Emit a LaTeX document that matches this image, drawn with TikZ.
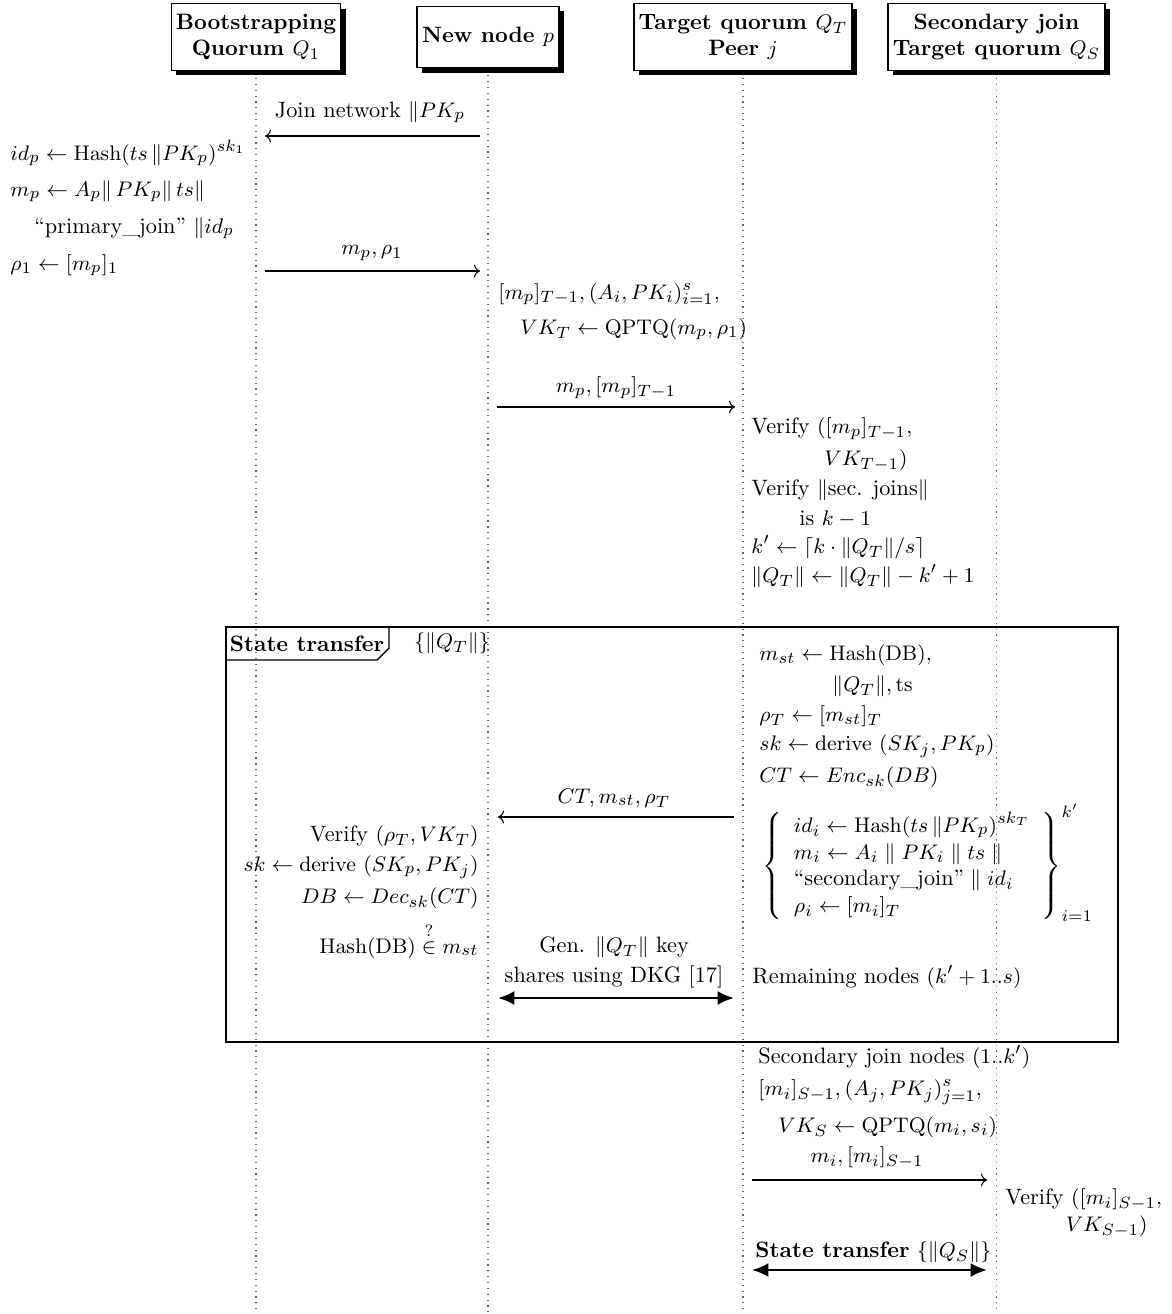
\documentclass[tikz,border=0pt]{standalone}
\usepackage{amsmath,amssymb}
\usetikzlibrary{arrows.meta,shadows}
\begin{document}
\fontsize{9.5}{11.4}\selectfont
\begin{tikzpicture}[x=0.015cm,y=-0.015cm,
  hdr/.style={draw, fill=white, align=center, font=\bfseries, inner sep=2pt, line width=0.5pt,
     drop shadow={opacity=1, fill=black, shadow xshift=2.2pt, shadow yshift=-2.2pt}},
  life/.style={dotted, black!60, line width=0.5pt},
  msg/.style={->, line width=0.45pt},
  bigarr/.style={{Latex[length=7pt,width=6pt]}-{Latex[length=7pt,width=6pt]}, line width=1.1pt},
  tl/.style={inner sep=0pt, anchor=west},
  tr/.style={inner sep=0pt, anchor=east},
  tc/.style={inner sep=0pt},
]
\useasboundingbox (0,0) rectangle (1171,1314);

% headers
\node[hdr, minimum width=2.52cm, minimum height=1.0cm] (q1) at (256,37) {Bootstrapping\\Quorum $Q_1$};
\node[hdr, minimum width=2.13cm, minimum height=0.92cm] (p) at (488,37) {New node $p$};
\node[hdr, minimum width=3.24cm, minimum height=1.0cm] (qt) at (743,37) {Target quorum $Q_T$\\Peer $j$};
\node[hdr, minimum width=3.23cm, minimum height=1.0cm] (qs) at (996.5,37) {Secondary join\\Target quorum $Q_S$};

% lifelines
\coordinate (q1end) at (256,1312);
\coordinate (pend) at (488,1312);
\coordinate (qtend) at (743,1312);
\coordinate (qsend) at (996.5,1312);
\draw[life] ([yshift=-3pt]q1.south) -- (q1end);
\draw[life] ([yshift=-3pt]p.south) -- (pend);
\draw[life] ([yshift=-3pt]qt.south) -- (qtend);
\draw[life] ([yshift=-3pt]qs.south) -- (qsend);

% message 1
\node[tc] (l1) at (370,112) {Join network $\|PK_p$};
\coordinate (a1s) at (480,136);
\coordinate (a1e) at (265,136);
\draw[msg] (a1s) -- (a1e);

% Q1 block
\node[tl] (b1a) at (10,153) {$id_p \leftarrow \mathrm{Hash}(ts\,\|PK_p)^{sk_1}$};
\node[tl] (b1b) at (10,191) {$m_p \leftarrow A_p\|\,PK_p\|\,ts\|$};
\node[tl] (b1c) at (34,228) {“primary\_join” $\|id_p$};
\node[tl] (b1d) at (10,265) {$\rho_1 \leftarrow [m_p]_1$};

% message 2
\node[tc] (l2) at (372,253) {$m_p, \rho_1$};
\coordinate (a2s) at (265,271);
\coordinate (a2e) at (480,271);
\draw[msg] (a2s) -- (a2e);

% p block
\node[tl] (b2a) at (498,294) {$[m_p]_{T-1}, (A_i, PK_i)^{s}_{i=1},$};
\node[tl] (b2b) at (520,329) {$VK_T \leftarrow \mathrm{QPTQ}(m_p,\rho_1)$};

% message 3
\node[tc] (l3) at (616,388) {$m_p, [m_p]_{T-1}$};
\coordinate (a3s) at (497,407);
\coordinate (a3e) at (735,407);
\draw[msg] (a3s) -- (a3e);

% QT block
\node[tl] (b3a) at (751,429) {Verify $([m_p]_{T-1},$};
\node[tl] (b3b) at (824,461) {$VK_{T-1})$};
\node[tl] (b3c) at (751,490) {Verify $\|$sec. joins$\|$};
\node[tl] (b3d) at (799,519) {is $k-1$};
\node[tl] (b3e) at (751,547) {$k' \leftarrow \lceil k\cdot\|Q_T\|/s\rceil$};
\node[tl] (b3f) at (751,576) {$\|Q_T\| \leftarrow \|Q_T\| - k' + 1$};

% state transfer frame
\draw[line width=0.6pt] (226,627) rectangle (1118,1042);
\draw[line width=0.6pt] (226,660) -- (377,660) -- (389,648) -- (389,627);
\node[tc, font=\bfseries] (sttab) at (307,644) {State transfer};
\node[tc] (stqt) at (452,643) {$\{\|Q_T\|\}$};

% QT block in frame
\node[tl] (b4a) at (759,655) {$m_{st} \leftarrow \mathrm{Hash(DB)},$};
\node[tl] (b4b) at (832,686) {$\|Q_T\|, \mathrm{ts}$};
\node[tl] (b4c) at (759,716) {$\rho_T \leftarrow [m_{st}]_T$};
\node[tl] (b4d) at (759,746) {$sk \leftarrow \mathrm{derive}\ (SK_j, PK_p)$};
\node[tl] (b4e) at (759,777) {$CT \leftarrow Enc_{sk}(DB)$};
\node[tl] (br) at (762,863) {$\left\{\begin{array}{l}
  id_i \leftarrow \mathrm{Hash}(ts\,\|PK_p)^{sk_T}\\
  m_i \leftarrow A_i \parallel PK_i \parallel ts \parallel\\
  \text{“secondary\_join”} \parallel id_i\\
  \rho_i \leftarrow [m_i]_T
  \end{array}\right\}_{i=1}^{k'}$};
\node[tl] (b4f) at (752,977) {Remaining nodes $(k'+1..s)$};

% message CT
\node[tc] (l4) at (614,798) {$CT, m_{st}, \rho_T$};
\coordinate (a4s) at (734,817);
\coordinate (a4e) at (498,817);
\draw[msg] (a4s) -- (a4e);

% p block in frame
\node[tr] (b5a) at (479,836) {Verify $(\rho_T, VK_T)$};
\node[tr] (b5b) at (479,867) {$sk \leftarrow \mathrm{derive}\ (SK_p, PK_j)$};
\node[tr] (b5c) at (479,898) {$DB \leftarrow Dec_{sk}(CT)$};
\node[tr, anchor=base east] (b5d) at (479,953) {$\mathrm{Hash(DB)} \overset{?}{\in} m_{st}$};

% DKG
\node[tc] (l5a) at (614,947) {Gen. $\|Q_T\|$ key};
\node[tc] (l5b) at (614,977) {shares using DKG [17]};
\coordinate (a5s) at (498,998);
\coordinate (a5e) at (734,998);
\draw[bigarr] (a5s) -- (a5e);

% after frame
\node[tl] (b6a) at (758,1057) {Secondary join nodes $(1..k')$};
\node[tl] (b6b) at (758,1092) {$[m_i]_{S-1}, (A_j, PK_j)^{s}_{j=1},$};
\node[tl] (b6c) at (778,1127) {$VK_S \leftarrow \mathrm{QPTQ}(m_i, s_i)$};

\node[tc] (l6) at (867,1158) {$m_i, [m_i]_{S-1}$};
\coordinate (a6s) at (752,1180);
\coordinate (a6e) at (987,1180);
\draw[msg] (a6s) -- (a6e);

\node[tl] (b7a) at (1005,1200) {Verify $([m_i]_{S-1},$};
\node[tr] (b7b) at (1148,1227) {$VK_{S-1})$};

\node[tl] (l7) at (755,1252) {\textbf{State transfer} $\{\|Q_S\|\}$};
\coordinate (a7s) at (752,1270);
\coordinate (a7e) at (987,1270);
\draw[bigarr] (a7s) -- (a7e);
\end{tikzpicture}
\end{document}
